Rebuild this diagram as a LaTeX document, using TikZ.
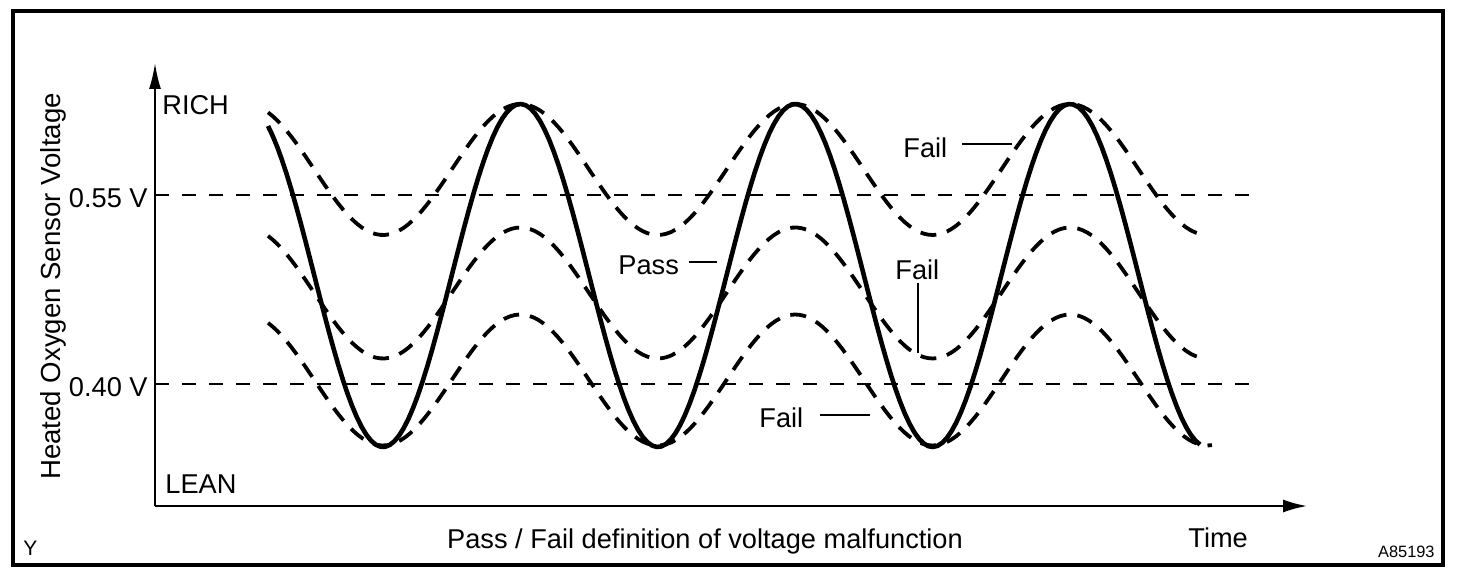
\documentclass[tikz,border=0pt]{standalone}
\usepackage{fontspec}
\setmainfont{Liberation Sans}
\usetikzlibrary{arrows.meta}

\begin{document}
\begin{tikzpicture}[x=0.5pt,y=-0.5pt,
    frame/.style={line width=1.6pt},
    axis/.style={line width=1pt,-{Latex[length=13pt,width=6pt]}},
    level/.style={line width=1pt,dash pattern=on 7pt off 6.5pt},
    signal/.style={line width=2.3pt,line join=round},
    band/.style={line width=1.9pt,dash pattern=on 8pt off 5.5pt},
    lead/.style={line width=1pt},
    lbl/.style={inner sep=0pt,font=\fontsize{13.6}{16}\selectfont},
    small/.style={inner sep=0pt,font=\fontsize{8.2}{10}\selectfont}]
  \useasboundingbox (0,0) rectangle (1472,582);
  \draw[frame] (13,11) rectangle (1443,565);
  %axes
  \coordinate (o) at (155,506);
  \coordinate (ytip) at (155,63);
  \coordinate (xtip) at (1307,506);
  \draw[axis] (o) -- (ytip);
  \draw[axis,-{Latex[length=12pt,width=6.5pt]}] (o) -- (xtip);
  %threshold levels
  \coordinate (hi) at (155,195);
  \coordinate (hiend) at (1249,195);
  \coordinate (lo) at (155,384);
  \coordinate (loend) at (1249,384);
  \draw[level] (hi) -- (hiend);
  \draw[level] (lo) -- (loend);
  %sensor signal and the three dashed bands
  \draw[signal] plot[domain=268:1200,samples=200] (\x,{275.5+171.5*cos((\x-383)/137.4*180)});
  \foreach \mid/\last in {169.5/1200, 293/1200, 380/1212}
    \draw[band] plot[domain=268:\last,samples=200] (\x,{\mid+65.5*cos((\x-383)/137.4*180)});
  %labels
  \node[lbl,rotate=90,anchor=base] (ylab) at (61,286.5) {\fontsize{13.8}{16}\selectfont Heated Oxygen Sensor Voltage};
  \node[lbl,anchor=base west] (rich) at (162,115) {RICH};
  \node[lbl,anchor=base west] (lean) at (165,493) {LEAN};
  \node[lbl,anchor=base east] (vhigh) at (148,208) {0.55 V};
  \node[lbl,anchor=base east] (vlow) at (148,397) {0.40 V};
  \node[lbl,anchor=base] (xlab) at (705,548) {Pass / Fail definition of voltage malfunction};
  \node[lbl,anchor=base west] (tlab) at (1188,547) {Time};
  \node[small,anchor=base east] (figno) at (1435,557) {A85193};
  \node[inner sep=0pt,font=\fontsize{10.5}{12}\selectfont,anchor=base west] (corner) at (23,555) {Y};
  %pass / fail callouts
  \node[lbl,anchor=base west] (failA) at (903,158) {Fail};
  \node[lbl,anchor=base west] (pass) at (618,275) {Pass};
  \node[lbl,anchor=base west] (failB) at (895,280) {Fail};
  \node[lbl,anchor=base west] (failC) at (759,428) {Fail};
  \coordinate (failAend) at (1012,144);
  \coordinate (passend) at (717,262);
  \coordinate (failBend) at (918,353);
  \coordinate (failCend) at (870,415);
  \draw[lead,shorten >=7pt] (failAend) -- (failAend -| failA.east);
  \draw[lead,shorten >=5pt] (passend) -- (passend -| pass.east);
  \draw[lead,shorten <=1pt] (failB.south -| failBend) -- (failBend);
  \draw[lead,shorten >=8pt] (failCend) -- (failCend -| failC.east);
\end{tikzpicture}
\end{document}
